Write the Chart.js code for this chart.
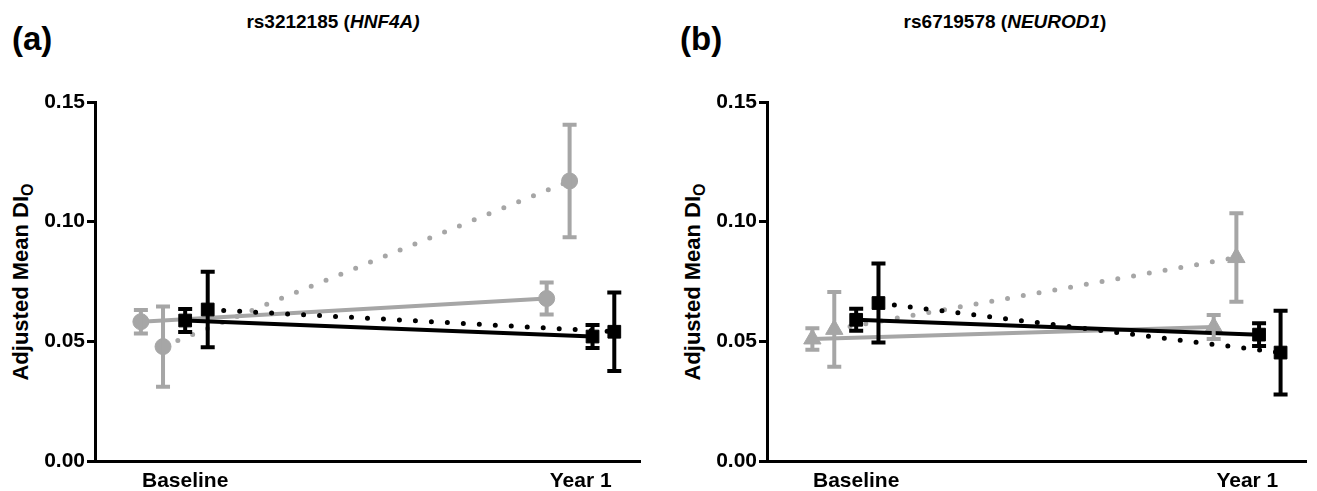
<!DOCTYPE html>
<html>
<head>
<meta charset="utf-8">
<script src="https://cdn.jsdelivr.net/npm/chart.js@4.4.1/dist/chart.umd.min.js"></script>
<style>
    body { margin: 0; background: #fff; width: 1317px; height: 491px; position: relative; overflow: hidden;
           font-family: "Liberation Sans", Arial, sans-serif; color: #000; }
    .panel { position: absolute; top: 0; height: 491px; }
    #panelA { left: 0; width: 658px; }
    #panelB { left: 672px; width: 645px; }
    .panel canvas { position: absolute; left: 0; top: 0; }
    .tag { position: absolute; top: 20px; font-weight: bold; font-size: 33px; }
    .title { position: absolute; top: 11px; font-weight: bold; font-size: 19px; white-space: nowrap; transform: translateX(-50%); }
    .ylabel { position: absolute; left: 22px; top: 282px; font-weight: bold; font-size: 22px; white-space: nowrap;
              transform: translate(-50%, -50%) rotate(-90deg); }
    .ylabel sub { font-size: 16px; vertical-align: -5px; }
</style>
</head>
<body>
<div class="panel" id="panelA">
    <div class="tag" style="left:12px">(a)</div>
    <div class="title" style="left:333px">rs3212185 (<i>HNF4A)</i></div>
    <div class="ylabel">Adjusted Mean DI<sub>O</sub></div>
    <canvas id="chartA" width="658" height="491"></canvas>
</div>
<div class="panel" id="panelB">
    <div class="tag" style="left:8px">(b)</div>
    <div class="title" style="left:333px">rs6719578 (<i>NEUROD1</i>)</div>
    <div class="ylabel">Adjusted Mean DI<sub>O</sub></div>
    <canvas id="chartB" width="645" height="491"></canvas>
</div>
<script>
const timepoints = ["Baseline", "Year 1"];
const yTicks = [0, 0.05, 0.10, 0.15];

// horizontal dodge of each series around its timepoint (grey solid, grey dotted, black solid, black dotted)
const dodgeBaseline = [-0.112, -0.056, 0, 0.057];
const dodgeYear1 = [-0.086, -0.028, 0.03, 0.085];

// rs3212185 (HNF4A)
const hnf4aGreySolidMean = [0.0582, 0.0679];
const hnf4aGreySolidErr = [0.0049, 0.0067];
const hnf4aGreyDottedMean = [0.0478, 0.117];
const hnf4aGreyDottedErr = [0.0168, 0.0235];
const hnf4aBlackSolidMean = [0.0587, 0.052];
const hnf4aBlackSolidErr = [0.0048, 0.0048];
const hnf4aBlackDottedMean = [0.0633, 0.054];
const hnf4aBlackDottedErr = [0.0158, 0.0164];

// rs6719578 (NEUROD1)
const neurod1GreySolidMean = [0.051, 0.056];
const neurod1GreySolidErr = [0.0045, 0.005];
const neurod1GreyDottedMean = [0.055, 0.085];
const neurod1GreyDottedErr = [0.0156, 0.0185];
const neurod1BlackSolidMean = [0.059, 0.0528];
const neurod1BlackSolidErr = [0.0046, 0.0048];
const neurod1BlackDottedMean = [0.066, 0.0453];
const neurod1BlackDottedErr = [0.0165, 0.0175];

const GREY = "#a6a6a6";
const BLACK = "#000000";

Chart.defaults.font.family = '"Liberation Sans", Arial, sans-serif';

function makeSeries(idx, means, errs, color, marker, dotted) {
    return {
        data: means.map((m, i) => ({ x: i + (i === 0 ? dodgeBaseline[idx] : dodgeYear1[idx]), y: m })),
        errors: errs,
        showLine: true,
        borderColor: color,
        backgroundColor: color,
        borderWidth: dotted ? 5 : 4,
        borderDash: dotted ? [0, 16] : [],
        borderCapStyle: dotted ? "round" : "butt",
        pointStyle: marker,
        pointRadius: marker === "rect" ? 9 : marker === "triangle" ? 10 : 8,
        pointBorderWidth: 1,
        pointBackgroundColor: color,
        pointBorderColor: color,
    };
}

const errorBars = {
    id: "errorBars",
    afterDatasetsDraw(chart) {
        const { ctx, scales: { x, y } } = chart;
        const sets = chart.data.datasets;
        for (let k = sets.length - 1; k >= 0; k--) {
            const ds = sets[k];
            ctx.save();
            ctx.strokeStyle = ds.borderColor;
            ctx.lineWidth = 4;
            ds.data.forEach((p, j) => {
                const e = ds.errors[j];
                const px = x.getPixelForValue(p.x);
                const top = y.getPixelForValue(p.y + e);
                const bot = y.getPixelForValue(p.y - e);
                ctx.beginPath();
                ctx.moveTo(px, top);
                ctx.lineTo(px, bot);
                ctx.moveTo(px - 7, top);
                ctx.lineTo(px + 7, top);
                ctx.moveTo(px - 7, bot);
                ctx.lineTo(px + 7, bot);
                ctx.stroke();
            });
            ctx.restore();
        }
    }
};

function drawPanel(canvasId, series, rightPad) {
    new Chart(document.getElementById(canvasId), {
        type: "scatter",
        data: { datasets: series },
        plugins: [errorBars],
        options: {
            responsive: false,
            animation: false,
            layout: { padding: { top: 102, right: rightPad, left: 0, bottom: 0 } },
            plugins: { legend: { display: false }, tooltip: { enabled: false } },
            scales: {
                x: {
                    type: "linear",
                    min: -0.228,
                    max: 1.15,
                    afterBuildTicks: (s) => { s.ticks = timepoints.map((t, i) => ({ value: i })); },
                    ticks: {
                        callback: (v) => timepoints[v],
                        font: { size: 21, weight: "bold" },
                        color: BLACK,
                        padding: 8,
                        maxRotation: 0,
                        autoSkip: false
                    },
                    grid: { display: false, drawTicks: false },
                    border: { display: true, color: BLACK, width: 3 },
                    afterFit: (s) => { s.height = 30; }
                },
                y: {
                    min: 0,
                    max: 0.15,
                    afterBuildTicks: (s) => { s.ticks = yTicks.map((v) => ({ value: v })); },
                    ticks: {
                        callback: (v) => v.toFixed(2),
                        font: { size: 21, weight: "bold" },
                        color: BLACK,
                        padding: 2
                    },
                    grid: { display: true, drawOnChartArea: false, drawTicks: true, tickLength: 8, tickWidth: 3, tickColor: BLACK },
                    border: { display: true, color: BLACK, width: 3 },
                    afterFit: (s) => { s.width = 95; }
                }
            }
        }
    });
}

drawPanel("chartA", [
    makeSeries(2, hnf4aBlackSolidMean, hnf4aBlackSolidErr, BLACK, "rect", false),
    makeSeries(3, hnf4aBlackDottedMean, hnf4aBlackDottedErr, BLACK, "rect", true),
    makeSeries(0, hnf4aGreySolidMean, hnf4aGreySolidErr, GREY, "circle", false),
    makeSeries(1, hnf4aGreyDottedMean, hnf4aGreyDottedErr, GREY, "circle", true),
], 18);

drawPanel("chartB", [
    makeSeries(2, neurod1BlackSolidMean, neurod1BlackSolidErr, BLACK, "rect", false),
    makeSeries(3, neurod1BlackDottedMean, neurod1BlackDottedErr, BLACK, "rect", true),
    makeSeries(0, neurod1GreySolidMean, neurod1GreySolidErr, GREY, "triangle", false),
    makeSeries(1, neurod1GreyDottedMean, neurod1GreyDottedErr, GREY, "triangle", true),
], 4);
</script>
</body>
</html>
